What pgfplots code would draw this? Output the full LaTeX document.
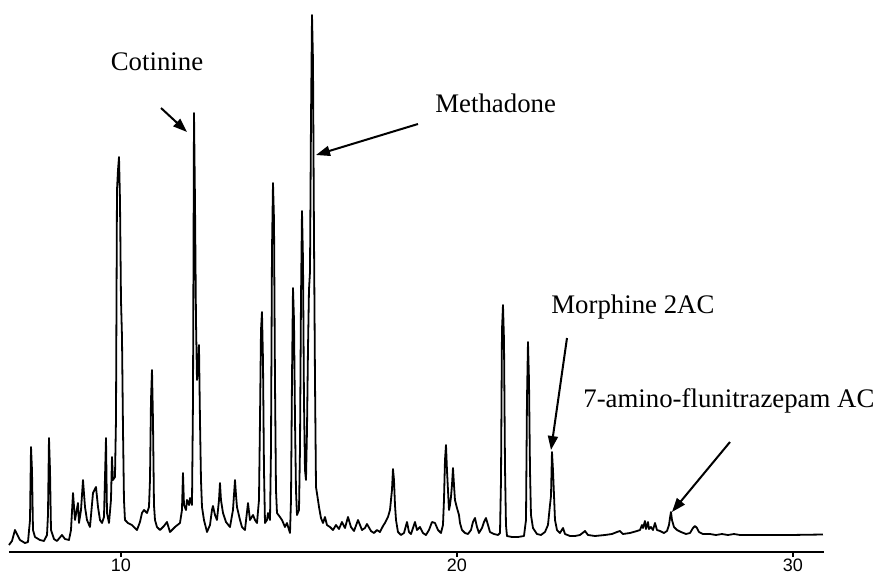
\documentclass[border=0pt]{standalone}
\usepackage{fontspec}
\setmainfont{Liberation Serif}
\newfontfamily\tickfont{Liberation Sans}
\usepackage{pgfplots}
\pgfplotsset{compat=1.18}
\usetikzlibrary{arrows.meta}
\begin{document}
\begin{tikzpicture}
\useasboundingbox (0,0) rectangle (437.5pt,287.5pt);
\begin{axis}[
  at={(4.5pt,11.5pt)}, anchor=south west,
  scale only axis, width=407.5pt, height=271pt,
  xmin=6.667, xmax=30.923, ymin=0, ymax=542,
  axis x line=bottom, axis y line=none,
  axis line style={line width=1pt,-},
  xtick={10,20,30}, tick align=outside,
  major tick length=2.5pt,
  tick style={line width=0.8pt,black},
  minor tick num=0,
  ticklabel style={font=\tickfont\fontsize{9}{10}\selectfont},
  xticklabel style={yshift=2.4pt},
  /pgf/number format/assume math mode=true,
  clip=false,
]
\addplot[black, line width=0.9pt, line join=round] coordinates {
(6.667,7) (6.756,11) (6.845,22) (6.994,12) (7.143,9) (7.232,10) (7.292,32) (7.322,105) (7.351,82) (7.381,22)
(7.441,15) (7.589,12) (7.708,11) (7.798,17) (7.827,37) (7.857,114) (7.887,82) (7.917,22) (8.006,13) (8.095,11)
(8.244,17) (8.333,13) (8.452,12) (8.512,22) (8.572,59) (8.631,32) (8.720,49) (8.750,29) (8.810,42) (8.869,72)
(8.929,45) (8.988,32) (9.077,25) (9.167,59) (9.256,65) (9.316,45) (9.375,32) (9.435,29) (9.494,35) (9.554,114)
(9.583,39) (9.643,29) (9.702,52) (9.732,95) (9.762,72) (9.821,75) (9.851,132) (9.881,362) (9.911,382) (9.941,395)
(9.970,352) (10.000,252) (10.030,215) (10.060,122) (10.089,52) (10.119,32) (10.208,29) (10.327,27) (10.476,22) (10.565,30)
(10.625,39) (10.685,42) (10.774,39) (10.833,45) (10.863,72) (10.893,152) (10.923,182) (10.952,132) (10.982,47) (11.012,32)
(11.071,25) (11.161,22) (11.280,26) (11.369,30) (11.458,20) (11.607,25) (11.756,29) (11.815,42) (11.845,79) (11.875,47)
(11.935,42) (11.964,52) (12.024,47) (12.054,54) (12.113,47) (12.143,152) (12.173,439) (12.202,352) (12.232,232) (12.262,172)
(12.292,182) (12.321,207) (12.351,132) (12.381,72) (12.411,45) (12.470,32) (12.560,20) (12.649,27) (12.708,42) (12.738,46)
(12.798,37) (12.857,32) (12.917,52) (12.946,69) (12.976,52) (13.036,39) (13.125,30) (13.244,25) (13.333,42) (13.393,72)
(13.423,57) (13.452,45) (13.542,32) (13.601,25) (13.690,22) (13.780,49) (13.839,32) (13.929,37) (13.988,32) (14.048,29)
(14.107,52) (14.137,132) (14.167,222) (14.196,240) (14.226,192) (14.256,82) (14.286,29) (14.345,32) (14.375,39) (14.435,32)
(14.464,102) (14.494,302) (14.524,369) (14.554,332) (14.583,172) (14.613,62) (14.643,39) (14.732,35) (14.792,32) (14.881,25)
(14.940,29) (15.030,19) (15.060,52) (15.089,172) (15.119,264) (15.149,232) (15.179,132) (15.208,62) (15.238,37) (15.298,42)
(15.327,102) (15.357,252) (15.387,341) (15.417,292) (15.446,152) (15.476,82) (15.506,72) (15.536,122) (15.565,202) (15.595,262)
(15.625,280) (15.655,432) (15.685,537) (15.714,492) (15.744,317) (15.774,172) (15.804,65) (15.863,52) (15.893,45) (15.952,34)
(16.012,29) (16.071,35) (16.131,27) (16.220,25) (16.310,22) (16.399,27) (16.488,23) (16.577,30) (16.667,24) (16.756,35)
(16.845,25) (16.935,21) (17.054,32) (17.173,22) (17.262,24) (17.321,28) (17.440,21) (17.530,19) (17.619,22) (17.708,20)
(17.798,26) (17.857,29) (17.946,35) (18.006,42) (18.065,62) (18.095,83) (18.125,72) (18.155,47) (18.185,32) (18.244,20)
(18.333,17) (18.423,19) (18.512,30) (18.571,20) (18.631,18) (18.690,24) (18.750,30) (18.810,22) (18.899,25) (18.988,19)
(19.077,17) (19.167,22) (19.256,30) (19.345,29) (19.435,22) (19.524,19) (19.583,27) (19.613,52) (19.643,92) (19.673,107)
(19.702,82) (19.732,62) (19.762,42) (19.792,47) (19.821,55) (19.851,67) (19.881,84) (19.911,67) (19.940,52) (20.000,44)
(20.060,37) (20.089,29) (20.149,22) (20.238,19) (20.327,18) (20.417,22) (20.476,30) (20.536,34) (20.595,25) (20.655,19)
(20.744,24) (20.804,30) (20.863,34) (20.923,27) (20.982,20) (21.101,18) (21.220,17) (21.280,19) (21.310,72) (21.339,222)
(21.369,247) (21.399,212) (21.429,85) (21.458,27) (21.488,16) (21.637,15) (21.815,15) (21.994,16) (22.054,32) (22.083,152)
(22.113,210) (22.143,172) (22.173,82) (22.202,37) (22.262,24) (22.381,18) (22.500,17) (22.619,20) (22.708,27) (22.768,47)
(22.798,56) (22.827,100) (22.857,82) (22.887,57) (22.917,32) (22.976,22) (23.065,19) (23.155,24) (23.214,18) (23.363,16)
(23.512,16) (23.661,17) (23.810,21) (23.899,17) (24.107,16) (24.405,17) (24.613,18) (24.762,20) (24.851,21) (24.940,18)
(25.149,19) (25.357,21) (25.446,22) (25.506,27) (25.536,24) (25.595,31) (25.625,23) (25.685,30) (25.714,23) (25.774,25)
(25.833,22) (25.893,29) (25.952,22) (26.042,21) (26.161,19) (26.250,21) (26.310,27) (26.339,34) (26.369,40) (26.399,32)
(26.458,25) (26.548,22) (26.667,20) (26.815,18) (26.935,19) (27.024,24) (27.083,26) (27.143,24) (27.202,20) (27.321,18)
(27.530,18) (27.708,17) (27.887,18) (28.065,17) (28.244,18) (28.423,17) (29.018,17) (29.911,17) (30.893,17.5)
};
\node[anchor=base, font=\fontsize{13.4}{15}\selectfont] at (axis cs:11.072,482) {Cotinine};
\draw[line width=1pt, -{Triangle[length=7pt,width=5pt]}] (axis cs:11.191,444) -- (axis cs:11.964,420);
\node[anchor=base west, inner sep=0pt, font=\fontsize{13.4}{15}\selectfont] at (axis cs:19.345,440) {Methadone};
\draw[line width=1pt, -{Triangle[length=7pt,width=5pt]}] (axis cs:18.839,428) -- (axis cs:15.804,397);
\node[anchor=base west, inner sep=0pt, font=\fontsize{13.4}{15}\selectfont] at (axis cs:22.798,239) {Morphine 2AC};
\draw[line width=1pt, -{Triangle[length=7pt,width=5pt]}] (axis cs:23.274,214) -- (axis cs:22.798,102);
\node[anchor=base west, inner sep=0pt, font=\fontsize{13.4}{15}\selectfont] at (axis cs:23.750,145) {7-amino-flunitrazepam AC};
\draw[line width=1pt, -{Triangle[length=7pt,width=5pt]}] (axis cs:28.125,110) -- (axis cs:26.399,40);
\end{axis}
\end{tikzpicture}
\end{document}
